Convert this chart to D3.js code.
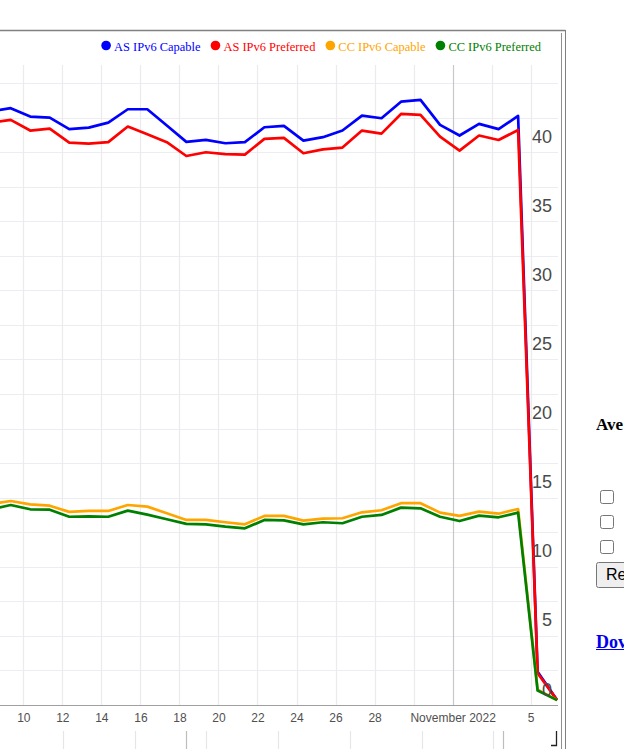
<!DOCTYPE html>
<html>
<head>
<meta charset="utf-8">
<script src="https://d3js.org/d3.v7.min.js"></script>
<style>
html, body { margin: 0; padding: 0; overflow: hidden; background: #fff; }
#chart { position: absolute; left: 0; top: 0; }
#side { position: absolute; left: 596px; top: 0; width: 28px; height: 749px; overflow: hidden;
        font-family: "Liberation Serif", "Times New Roman", serif; }
#side .ttl { position: absolute; left: 0; top: 416px; margin: 0; font-size: 17px; line-height: 17px;
             font-weight: bold; white-space: nowrap; }
#side input { position: absolute; left: 4px; margin: 0; width: 14px; height: 14px; }
#side button { position: absolute; left: 0; top: 562px; height: 26px; width: 70px; text-align: left;
               font: 16px "Liberation Sans", Arial, sans-serif; padding: 1px 8px; white-space: nowrap; }
#side a { position: absolute; left: 0; top: 633px; font-size: 18px; line-height: 18px; font-weight: bold;
          color: #0000ee; white-space: nowrap; }
</style>
</head>
<body>
<svg id="chart" width="624" height="749"></svg>
<div id="side">
  <div class="ttl">Ave</div>
  <input type="checkbox" style="top:490px">
  <input type="checkbox" style="top:515px">
  <input type="checkbox" style="top:540px">
  <button type="button">Re</button>
  <a href="#">Dov</a>
</div>
<script>
// daily samples, 8 Oct .. 6 Nov 2022
var dates = ["2022-10-08","2022-10-09","2022-10-10","2022-10-11","2022-10-12","2022-10-13",
  "2022-10-14","2022-10-15","2022-10-16","2022-10-17","2022-10-18","2022-10-19","2022-10-20",
  "2022-10-21","2022-10-22","2022-10-23","2022-10-24","2022-10-25","2022-10-26","2022-10-27",
  "2022-10-28","2022-10-29","2022-10-30","2022-10-31","2022-11-01","2022-11-02","2022-11-03",
  "2022-11-04","2022-11-05","2022-11-06"];
var sampleTime = "08:30";

var asCapable = [42.95, 43.18, 42.57, 42.5, 41.66, 41.77, 42.13, 43.1, 43.1, 41.92, 40.74, 40.88,
  40.64, 40.72, 41.8, 41.9, 40.83, 41.08, 41.56, 42.64, 42.45, 43.65, 43.78, 41.97, 41.2, 42.04,
  41.66, 42.62, 2.4, 0.35];
var asPreferred = [42.15, 42.33, 41.56, 41.7, 40.69, 40.62, 40.72, 41.85, 41.3, 40.72, 39.72, 39.99,
  39.85, 39.82, 40.96, 41.03, 39.92, 40.2, 40.33, 41.56, 41.34, 42.76, 42.69, 41.12, 40.11, 41.2,
  40.88, 41.6, 2.3, 0.35];
var ccCapable = [14.54, 14.76, 14.52, 14.42, 13.97, 14.04, 14.04, 14.47, 14.35, 13.87, 13.39, 13.39,
  13.22, 13.07, 13.68, 13.68, 13.34, 13.48, 13.51, 13.94, 14.09, 14.6, 14.6, 13.92, 13.68, 13.99,
  13.84, 14.18, 1.1, 0.35];
var ccPreferred = [14.17, 14.47, 14.16, 14.13, 13.62, 13.65, 13.62, 14.06, 13.77, 13.44, 13.1, 13.07,
  12.9, 12.78, 13.39, 13.36, 13.07, 13.22, 13.15, 13.62, 13.75, 14.28, 14.23, 13.62, 13.31, 13.7,
  13.58, 13.92, 1.05, 0.35];

var seriesNames = ["AS IPv6 Capable", "AS IPv6 Preferred", "CC IPv6 Capable", "CC IPv6 Preferred"];
var seriesColors = ["#0000ff", "#ff0000", "#ffa500", "#008000"];

var yLabels = [0, 5, 10, 15, 20, 25, 30, 35, 40];
var yGrid = [0, 2.5, 5, 7.5, 10, 12.5, 15, 17.5, 20, 22.5, 25, 27.5, 30, 32.5, 35, 37.5, 40, 42.5, 45];

var plotTop = 65, plotBottom = 705, plotRight = 558;

var parse = d3.timeParse("%Y-%m-%d %H:%M");
var x = d3.scaleTime()
  .domain([new Date(2022, 9, 10), new Date(2022, 10, 5)])
  .range([23.3, 530.7]);
var y = d3.scaleLinear().domain([0, 45]).range([plotBottom, 83]);

var svg = d3.select("#chart");

// outer frame
svg.append("line").attr("x1", 0).attr("x2", 565.5).attr("y1", 30.5).attr("y2", 30.5)
  .attr("stroke", "#808080").attr("stroke-width", 1.3);
svg.append("line").attr("x1", 565.5).attr("x2", 565.5).attr("y1", 30).attr("y2", 749)
  .attr("stroke", "#808080");
svg.append("line").attr("x1", 561.5).attr("x2", 561.5).attr("y1", 33).attr("y2", 749)
  .attr("stroke", "#909090");

svg.append("clipPath").attr("id", "plotclip").append("rect")
  .attr("x", 0).attr("y", plotTop).attr("width", plotRight).attr("height", plotBottom - plotTop + 4);

// grid
var xTicks = d3.timeDay.range(new Date(2022, 9, 10), new Date(2022, 10, 6), 2);
var grid = svg.append("g").attr("clip-path", "url(#plotclip)");
grid.selectAll(".hg").data(yGrid).enter().append("line")
  .attr("x1", 0).attr("x2", plotRight)
  .attr("y1", function(d) { return Math.round(y(d)) + 0.5; })
  .attr("y2", function(d) { return Math.round(y(d)) + 0.5; })
  .attr("stroke", "#ececf3").attr("stroke-width", 1.2);
grid.selectAll(".vg").data(xTicks).enter().append("line")
  .attr("x1", function(d) { return Math.round(x(d)) + 0.5; })
  .attr("x2", function(d) { return Math.round(x(d)) + 0.5; })
  .attr("y1", plotTop).attr("y2", plotBottom)
  .attr("stroke", function(d) { return d.getDate() == 1 ? "#c8c8c8" : "#ebebeb"; })
  .attr("stroke-width", 1.2);

// lines
var allSeries = [asCapable, asPreferred, ccCapable, ccPreferred];
var line = d3.line()
  .x(function(d, i) { return x(parse(dates[i] + " " + sampleTime)); })
  .y(function(d) { return y(d); });
var lines = svg.append("g").attr("clip-path", "url(#plotclip)");
allSeries.forEach(function(s, i) {
  lines.append("path").datum(s).attr("d", line)
    .attr("fill", "none").attr("stroke", seriesColors[i])
    .attr("stroke-width", 2.7).attr("stroke-linejoin", "round");
});

// x axis: the month label hides its two neighbours
function xLabel(d) {
  if (d.getDate() == 1) return d3.timeFormat("%B %Y")(d);
  var next = d3.timeDay.offset(d, 2), prev = d3.timeDay.offset(d, -2);
  if (next.getDate() == 1 || (prev.getDate() == 1 && prev.getMonth() != 9)) return "";
  return d3.timeFormat("%-d")(d);
}
svg.append("line").attr("x1", 0).attr("x2", plotRight).attr("y1", plotBottom + 0.5).attr("y2", plotBottom + 0.5)
  .attr("stroke", "#a0a0a0").attr("stroke-width", 1.2);
var xAxis = svg.append("g").attr("transform", "translate(0," + plotBottom + ")")
  .call(d3.axisBottom(x).tickValues(xTicks).tickSize(0).tickPadding(0).tickFormat(xLabel));
xAxis.select(".domain").remove();
xAxis.selectAll("text").attr("y", 17).attr("dy", 0)
  .style("font-family", "'Liberation Sans', Arial, sans-serif").style("font-size", "12px").attr("fill", "#505050");

// y axis labels (drawn just above their grid lines)
var yAxis = svg.append("g").attr("transform", "translate(552,0)")
  .call(d3.axisLeft(y).tickValues(yLabels).tickSize(0).tickPadding(0));
yAxis.select(".domain").remove();
yAxis.selectAll("text").attr("dy", -10)
  .style("font-family", "'Liberation Sans', Arial, sans-serif").style("font-size", "18px").attr("fill", "#4a4a4a");

// legend, right aligned
var legend = svg.append("g");
var lx = 541;
for (var i = seriesNames.length - 1; i >= 0; i--) {
  var t = legend.append("text").attr("y", 50.7).text(seriesNames[i])
    .style("font-family", "'Liberation Serif', 'Times New Roman', serif").style("font-size", "12.45px")
    .attr("fill", seriesColors[i]).attr("text-anchor", "end").attr("x", lx);
  var w = t.node().getComputedTextLength();
  legend.append("circle").attr("cx", lx - w - 8).attr("cy", 45.5).attr("r", 4.8).attr("fill", seriesColors[i]);
  lx = lx - w - 23;
}

// overview strip below the chart
var ov = d3.scaleLinear().domain([0, 7]).range([63, 565]);
var ovg = svg.append("g");
ovg.selectAll("line").data([0, 1, 2, 3, 4, 5, 6]).enter().append("line")
  .attr("x1", function(d) { return Math.round(ov(d)) + 0.5; })
  .attr("x2", function(d) { return Math.round(ov(d)) + 0.5; })
  .attr("y1", 731).attr("y2", 749).attr("stroke", "#e6e6e6").attr("stroke-width", 1.2);
[1.72, 6.13].forEach(function(d) {
  ovg.append("line").attr("x1", Math.round(ov(d)) + 0.5).attr("x2", Math.round(ov(d)) + 0.5)
    .attr("y1", 731).attr("y2", 749).attr("stroke", "#bdbdbd").attr("stroke-width", 1.2);
});
ovg.append("path").attr("d", "M556.5,731V745.5H551").attr("fill", "none").attr("stroke", "#222").attr("stroke-width", 1.3);
</script>
</body>
</html>
